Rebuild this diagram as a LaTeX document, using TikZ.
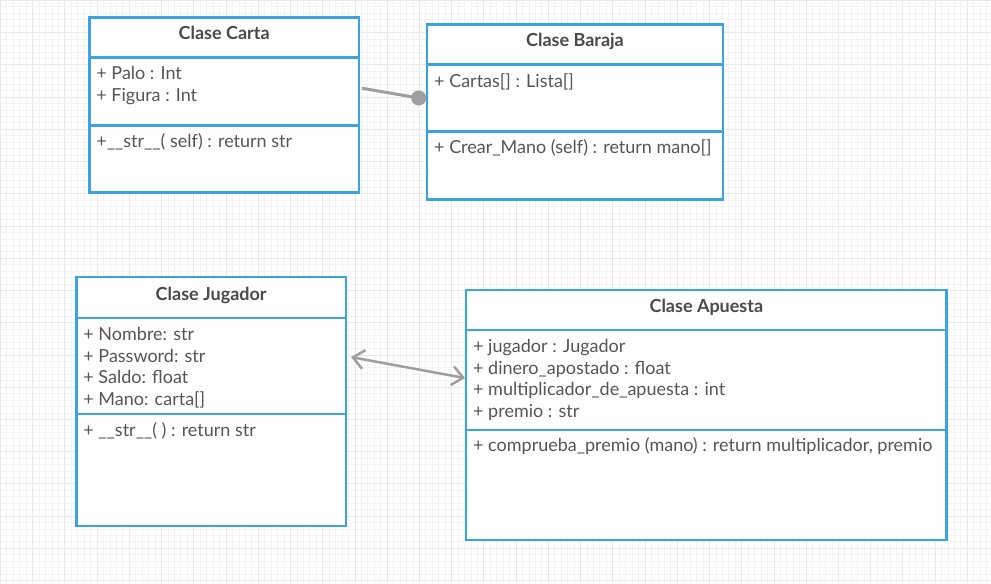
\documentclass[tikz,border=0pt]{standalone}
\usepackage{fontspec}
\setmainfont{Lato}
\usetikzlibrary{arrows.meta,positioning}
\definecolor{UmlBlue}{HTML}{3BA4E0}
\definecolor{Ink}{HTML}{4A4A4A}
\definecolor{Ink2}{HTML}{555555}
\definecolor{LinkC}{HTML}{9E9E9E}
\definecolor{GridMinor}{HTML}{F3F3F3}
\definecolor{GridMajor}{HTML}{E8E8E8}

\begin{document}
\begin{tikzpicture}[
  x=1pt, y=-1pt,
  part/.style={draw=UmlBlue, line width=2.7pt, fill=white, outer sep=0pt, inner sep=0pt, minimum width=#1},
  head/.style={part=#1, minimum height=40pt, text height=13pt, text depth=8pt, font=\bfseries\fontsize{18}{20}\selectfont, text=Ink, anchor=north west},
  txt/.style={inner sep=0pt, align=left, text=Ink2, font=\fontsize{18}{21.6}\selectfont},
  link/.style={LinkC, line width=3pt},
  barb/.tip={Straight Barb[length=11pt, width=19pt]}
]
% background grid
\fill[white] (0,0) rectangle (991,583);
\draw[GridMinor, line width=0.6pt, step=6.45pt] (0,0) grid (991,583);
\draw[GridMajor, line width=0.6pt, step=32.25pt] (0,0) grid (991,583);
\useasboundingbox (0,0) rectangle (991,583);

% Clase Carta
\node[head=270pt] (cartaT) at (89,17) {Clase Carta};
\node[part=270pt, minimum height=68pt, below=0pt of cartaT] (cartaA) {};
\node[part=270pt, minimum height=67pt, below=0pt of cartaA] (cartaM) {};
\node[txt, below right=9pt and 7pt of cartaA.north west] (cartaAt) {+ Palo : Int\\+ Figura : Int};
\node[txt, below right=8pt and 7pt of cartaM.north west] (cartaMt) {+\_\_str\_\_( self) : return str};

% Clase Baraja
\node[head=296pt] (barajaT) at (427,24) {Clase Baraja};
\node[part=296pt, minimum height=67pt, below=0pt of barajaT] (barajaA) {};
\node[part=296pt, minimum height=68pt, below=0pt of barajaA] (barajaM) {};
\node[txt, below right=9pt and 7pt of barajaA.north west] (barajaAt) {+ Cartas[] : Lista[]};
\node[txt, below right=8pt and 7pt of barajaM.north west] (barajaMt) {+ Crear\_Mano (self) : return mano[]};

% Clase Jugador
\node[head=270pt, minimum height=41pt] (jugadorT) at (76,277) {Clase Jugador};
\node[part=270pt, minimum height=96pt, below=0pt of jugadorT] (jugadorA) {};
\node[part=270pt, minimum height=112pt, below=0pt of jugadorA] (jugadorM) {};
\node[txt, below right=9pt and 7pt of jugadorA.north west] (jugadorAt)
  {+ Nombre: str\\+ Password: str\\+ Saldo: float\\+ Mano: carta[]};
\node[txt, below right=8pt and 7pt of jugadorM.north west] (jugadorMt) {+ \_\_str\_\_( ) : return str};

% Clase Apuesta
\node[head=481pt] (apuestaT) at (466,290) {Clase Apuesta};
\node[part=481pt, minimum height=100pt, below=0pt of apuestaT] (apuestaA) {};
\node[part=481pt, minimum height=110pt, below=0pt of apuestaA] (apuestaM) {};
\node[txt, below right=9pt and 7pt of apuestaA.north west] (apuestaAt)
  {+ jugador : Jugador\\+ dinero\_apostado : float\\+ multiplicador\_de\_apuesta : int\\+ premio : str};
\node[txt, below right=7pt and 7pt of apuestaM.north west] (apuestaMt)
  {+ comprueba\_premio (mano) : return multiplicador, premio};

% relations
\draw[link, -{Circle[length=15pt]}] ([xshift=3pt, yshift=3pt]cartaA.east) -- ([xshift=-1pt, yshift=-1.5pt]barajaA.west);
\draw[link, line width=2.5pt, barb-barb] ([xshift=5pt, yshift=9pt]jugadorA.east) -- ([xshift=-1pt, yshift=2pt]apuestaA.west);
\end{tikzpicture}
\end{document}
